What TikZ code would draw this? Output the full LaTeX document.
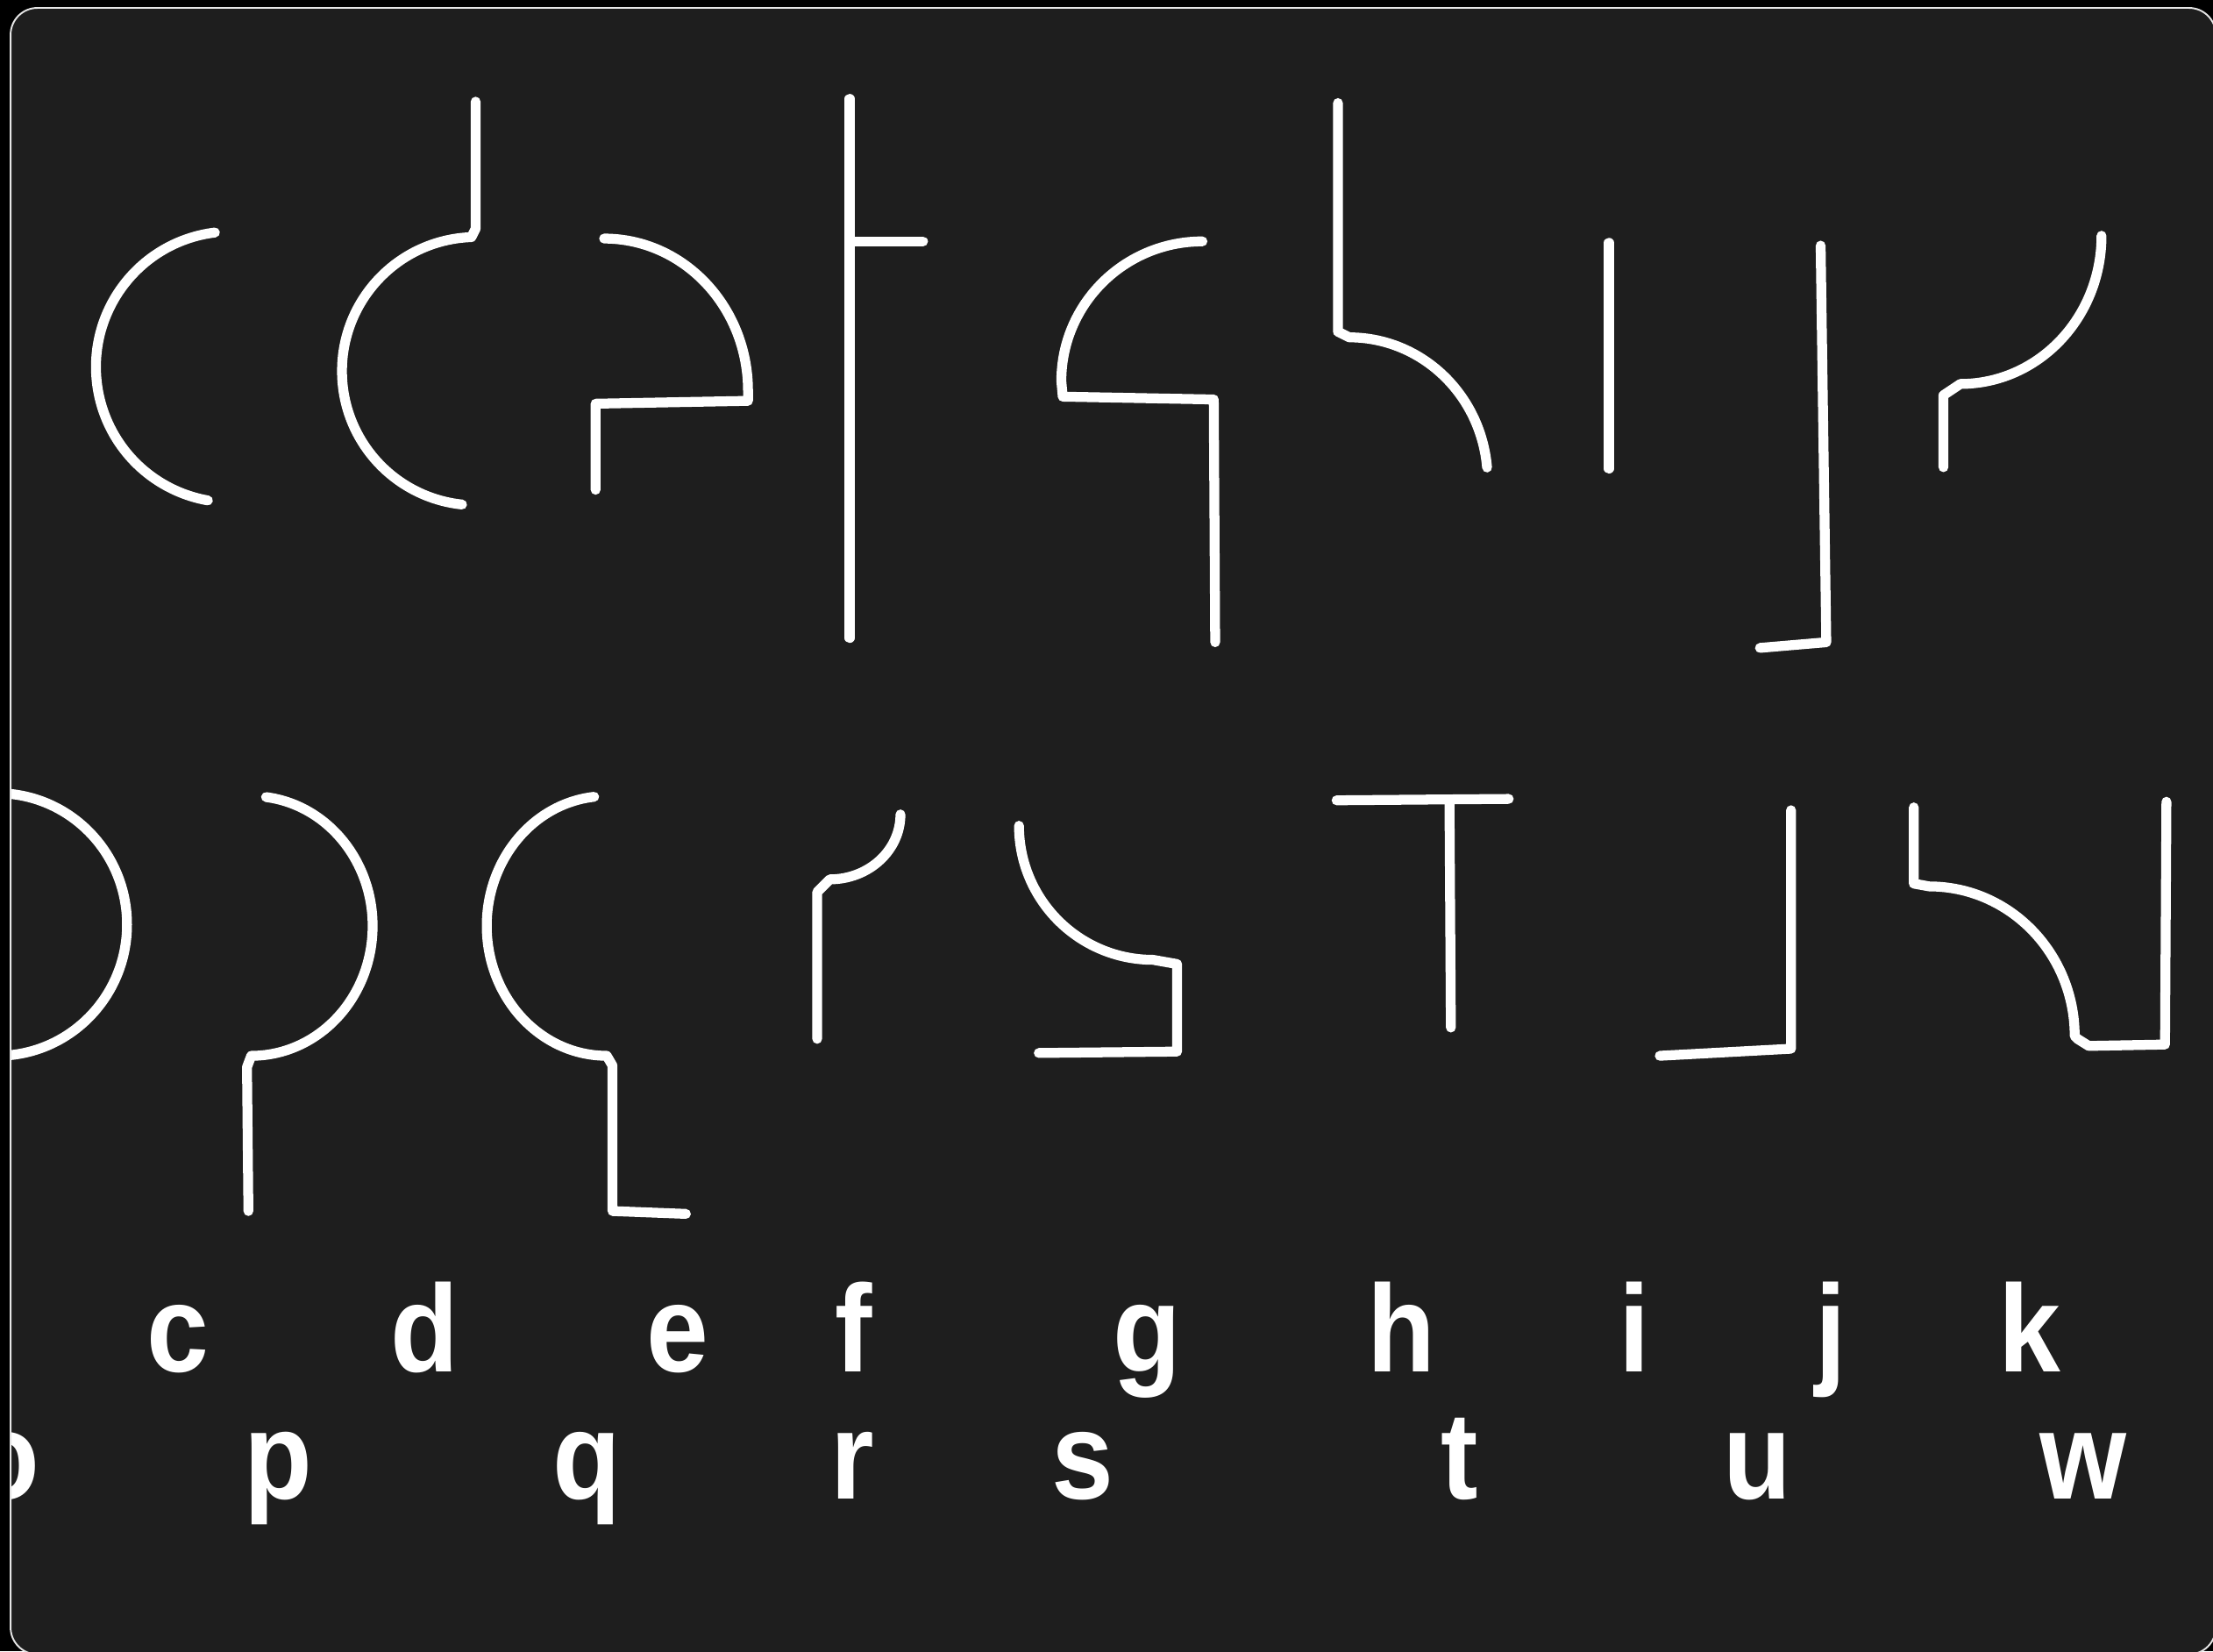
\documentclass[tikz,border=0pt]{standalone}
\usepackage{fontspec}
\setsansfont{Liberation Sans}[FakeStretch=0.9]
\usetikzlibrary{positioning}
\definecolor{panel}{HTML}{1E1E1E}
\definecolor{rim}{HTML}{E6E6E6}

\begin{document}
\begin{tikzpicture}[x=0.1mm,y=-0.1mm]
	\tikzstyle{glyph}=[draw=white,line width=0.7mm,line cap=round,line join=round]
	\tikzstyle{letter}=[text=white,font=\sffamily\bfseries\fontsize{25}{30}\selectfont,anchor=base,inner sep=0pt]
	\fill[black] (0,0) rectangle (1568,1170);
	\useasboundingbox (0,0) rectangle (1568,1170);
	\fill[panel,rounded corners=1.9mm] (7.5,5.6) rectangle (1570,1172);
	\begin{scope}
		\clip[rounded corners=1.9mm] (7.5,5.6) rectangle (1570,1172);
		% upper row of strokes
		\draw[glyph] (164,260) ++(263:96) arc[start angle=263,end angle=100,radius=96];
		\draw[glyph] (337,72) -- (337,162) -- (334,168) arc[start angle=268,end angle=96,radius=95];
		\draw[glyph] (428,169) arc[start angle=270,end angle=360,x radius=102,y radius=108] -- (530,284) -- (422,286) -- (422,347);
		\draw[glyph] (602,70) -- (602,452);
		\draw[glyph] (602,171) -- (654,171);
		\draw[glyph] (852,171) arc[start angle=270,end angle=180,x radius=100,y radius=99] -- (753,281) -- (860,283) -- (861,455);
		\draw[glyph] (948,73) -- (948,235) -- (956,239) arc[start angle=270,end angle=355,x radius=98,y radius=101];
		\draw[glyph] (1140,172) -- (1140,332);
		\draw[glyph] (1290,174) -- (1294,455) -- (1247,459);
		\draw[glyph] (1377,331) -- (1377,280) -- (1389,272) arc[start angle=90,end angle=0,x radius=100,y radius=105];
		% lower row of strokes
		\draw[glyph] (-2,562) arc[start angle=-90,end angle=90,x radius=92,y radius=93];
		\draw[glyph] (188.5,564.7) arc[start angle=-83,end angle=90,x radius=86,y radius=92] -- (175,756) -- (176,858);
		\draw[glyph] (421,564.5) arc[start angle=264,end angle=90,x radius=85,y radius=92] -- (434,755) -- (434,858) -- (486,860);
		\draw[glyph] (579,736) -- (579,632) -- (588,623) arc[start angle=90,end angle=0,x radius=50,y radius=46];
		\draw[glyph] (722,585) arc[start angle=180,end angle=90,radius=95] -- (834,683) -- (834,745) -- (736,746);
		\draw[glyph] (947,567) -- (1069,566);
		\draw[glyph] (1027,567) -- (1028,728);
		\draw[glyph] (1269,574) -- (1269,743) -- (1176,748);
		\draw[glyph] (1356,572) -- (1356,626) -- (1367,628) arc[start angle=270,end angle=360,x radius=103,y radius=106] -- (1472,736) -- (1480,741) -- (1534,740) -- (1535,568);
		% letters
		\foreach \name/\x/\y in {c/126/972, d/301/972, e/480/972, f/605/972, g/813/972, h/993/972, i/1158/972, j/1297/972, k/1438/972,
			o/4/1062, p/197/1062, q/416/1062, r/604/1062, s/767/1062, t/1034/1062, u/1245/1062, w/1476/1062}
			\node[letter] (l\name) at (\x,\y) {\name};
	\end{scope}
	\draw[rim,line width=0.12mm,rounded corners=1.9mm] (7.5,5.6) rectangle (1570,1172);
\end{tikzpicture}
\end{document}
